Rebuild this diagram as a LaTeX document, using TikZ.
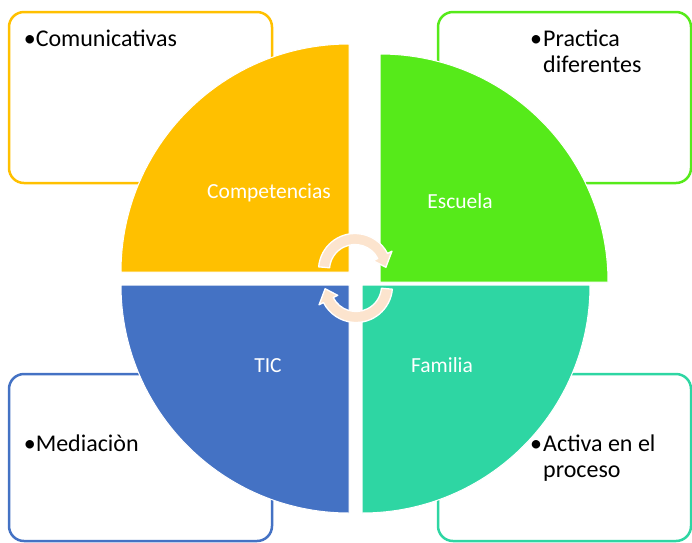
\documentclass[tikz,border=0pt]{standalone}
\usepackage{fontspec}
\setmainfont{Carlito}
\usetikzlibrary{calc}
\definecolor{yel}{HTML}{FFC000}
\definecolor{grn}{HTML}{56EA1A}
\definecolor{blu}{HTML}{4472C4}
\definecolor{tea}{HTML}{2ED6A3}
\definecolor{peach}{HTML}{FCE4CE}
\tikzset{
  box/.style={line width=2.5pt, rounded corners=15pt, fill=white},
  pie/.style={draw=white, line width=1pt},
  body/.style={inner sep=0pt, anchor=base west, font=\fontsize{24}{28}\selectfont, text=black},
  lbl/.style={inner sep=0pt, anchor=base, font=\fontsize{21.5}{25}\selectfont, text=white},
  cyc/.style={fill=peach, draw=white, line width=1.3pt, line join=round}
}
\begin{document}
\begin{tikzpicture}[x=1pt,y=-1pt]
\useasboundingbox (0,0) rectangle (692,542);
% corner boxes
\draw[box, draw=yel] (9,12) rectangle (272,183);
\draw[box, draw=grn] (438,12) rectangle (691,183);
\draw[box, draw=blu] (9,374) rectangle (272,541);
\draw[box, draw=tea] (438,374) rectangle (691,541);
% box texts
\node[body] (t1) at (23.6,46) {•Comunicativas};
\node[body] (b2) at (530,46) {•};
\node[body] (t2a) at (543,46) {Practica};
\node[body] (t2b) at (543,72) {diferentes};
\node[body] (t3) at (23.6,451) {•Mediaciòn};
\node[body] (b4) at (530,451) {•};
\node[body] (t4a) at (543,451) {Activa en el};
\node[body] (t4b) at (543,477) {proceso};
% pie quarters
\fill[pie, fill=yel] (349,272) -- (121,272) arc[start angle=180, end angle=270, radius=228] -- cycle;
\fill[pie, fill=grn] (380,282) -- (380,54) arc[start angle=270, end angle=360, radius=228] -- cycle;
\fill[pie, fill=blu] (349,285) -- (349,513) arc[start angle=90, end angle=180, radius=228] -- cycle;
\fill[pie, fill=tea] (362,285) -- (590,285) arc[start angle=0, end angle=90, radius=228] -- cycle;
% labels
\node[lbl] (competencias) at (269,198) {Competencias};
\node[lbl] (escuela) at (460,208) {Escuela};
\node[lbl] (tic) at (268,372) {TIC};
\node[lbl] (familia) at (442,372) {Familia};
% cycle arrows
\coordinate (ua) at (355,270);
\coordinate (la) at (356,286);
\filldraw[cyc] ($(ua)+(185:36.5)$) arc[start angle=185, end angle=333, radius=36.5]
  -- ($(ua)+(333:41.5)$) -- ($(ua)+(355:31)$) -- ($(ua)+(333:20.5)$)
  -- ($(ua)+(333:25.5)$) arc[start angle=333, end angle=185, radius=25.5] -- cycle;
\filldraw[cyc] ($(la)+(5:36.5)$) arc[start angle=5, end angle=153, radius=36.5]
  -- ($(la)+(153:41.5)$) -- ($(la)+(175:31)$) -- ($(la)+(153:20.5)$)
  -- ($(la)+(153:25.5)$) arc[start angle=153, end angle=5, radius=25.5] -- cycle;
\end{tikzpicture}
\end{document}
